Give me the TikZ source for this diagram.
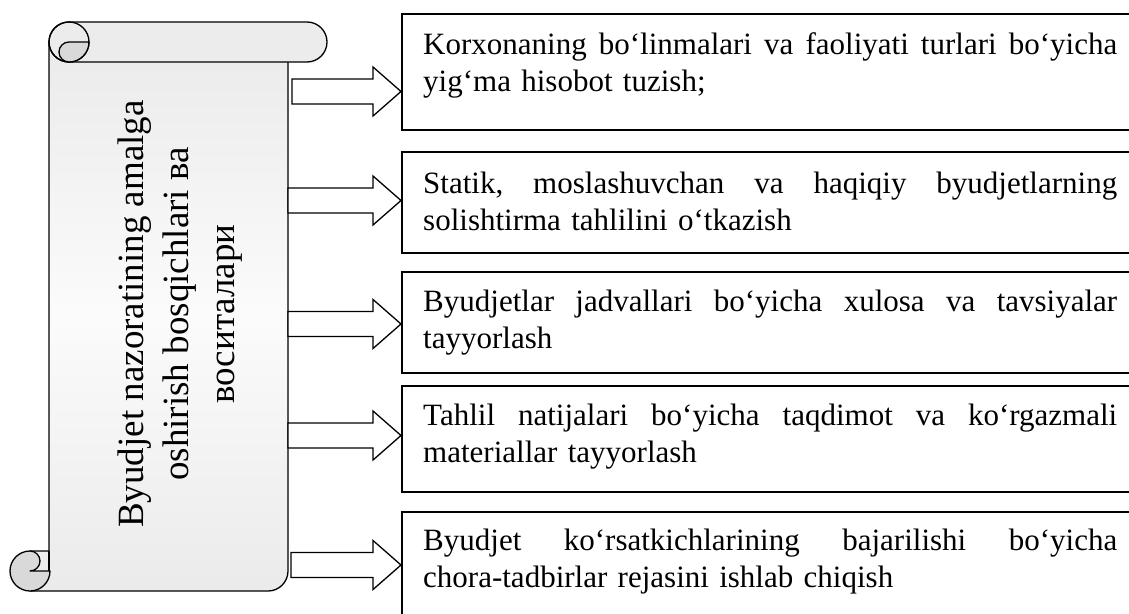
\documentclass[tikz,border=0pt]{standalone}
\usepackage{fontspec}
\setmainfont{Liberation Serif}
\begin{document}
\begin{tikzpicture}[x=1pt,y=-1pt,
  boxline/.style={draw=black,line width=1.6pt},
  rollfill/.style={fill=gray!15},
  curlfill/.style={fill=gray!30},
  outl/.style={draw=black,line width=1.3pt,line join=round},
  arrowshape/.style={draw=black,fill=white,line width=1.3pt,line join=miter},
  boxtext/.style={anchor=base west,inner sep=0pt,text width=694pt,align=left,font=\fontsize{31}{37}\selectfont},
  scrolltext/.style={rotate=90,inner sep=0pt,align=center,font=\fontsize{37}{45.5}\selectfont}]
\useasboundingbox (0,0) rectangle (1129,613);
\fill[white] (0,0) rectangle (1129,613);
\clip (0,0) rectangle (1129,613);
% scroll body
\path[outl, top color=gray!16, bottom color=gray!16, middle color=gray!3]
  (49,42) -- (288,42) -- (288,571) arc[start angle=0,end angle=90,radius=20]
  -- (30,591) -- (30,551) -- (49,551) -- cycle;
% top roll
\path[outl, rollfill] (69,22) -- (307,22) arc[start angle=-90,end angle=90,radius=20]
  -- (69,62) arc[start angle=90,end angle=270,radius=20] -- cycle;
\draw[outl] (69,42) circle[radius=20];
\path[outl, curlfill] (69,42) -- (89,42) arc[start angle=0,end angle=90,radius=20]
  arc[start angle=90,end angle=270,radius=10] -- cycle;
% bottom curl
\path[outl, curlfill] (30,551) arc[start angle=270,end angle=0,radius=20]
  -- (30,571) arc[start angle=90,end angle=-90,radius=10] -- cycle;
\draw[outl] (49,551) -- (49,571);
% scroll text
\node[scrolltext] (s) at (180,314) {Byudjet nazoratining amalga\\oshirish bosqichlari ва\\воситалари};
% boxes
\foreach \t/\b in {14/130,152/253,272/373,386/492,512/640}
  \draw[boxline] (402,\t) rectangle (1140,\b);
% arrows
\foreach \yc/\xs in {91.5/292, 200.5/288, 324/288, 435.5/288, 565/291}
  \path[arrowshape] (\xs,\yc-12.5) -- (373,\yc-12.5) -- (373,\yc-24.5) -- (401,\yc)
    -- (373,\yc+24.5) -- (373,\yc+12.5) -- (\xs,\yc+12.5) -- cycle;
% texts
\node[boxtext] (t1) at (423,54) {\hbox to 694pt{Korxonaning \hfill bo‘linmalari \hfill va \hfill faoliyati \hfill turlari \hfill bo‘yicha}\\yig‘ma hisobot tuzish;};
\node[boxtext] (t2) at (423,193) {\hbox to 694pt{Statik, \hfill moslashuvchan \hfill va \hfill haqiqiy \hfill byudjetlarning}\\solishtirma tahlilini o‘tkazish};
\node[boxtext] (t3) at (423,311) {\hbox to 694pt{Byudjetlar \hfill jadvallari \hfill bo‘yicha \hfill xulosa \hfill va \hfill tavsiyalar}\\tayyorlash};
\node[boxtext] (t4) at (423,425) {\hbox to 694pt{Tahlil \hfill natijalari \hfill bo‘yicha \hfill taqdimot \hfill va \hfill ko‘rgazmali}\\materiallar tayyorlash};
\node[boxtext] (t5) at (423,550) {\hbox to 694pt{Byudjet \hfill ko‘rsatkichlarining \hfill bajarilishi \hfill bo‘yicha}\\chora-tadbirlar rejasini ishlab chiqish};
\end{tikzpicture}
\end{document}
